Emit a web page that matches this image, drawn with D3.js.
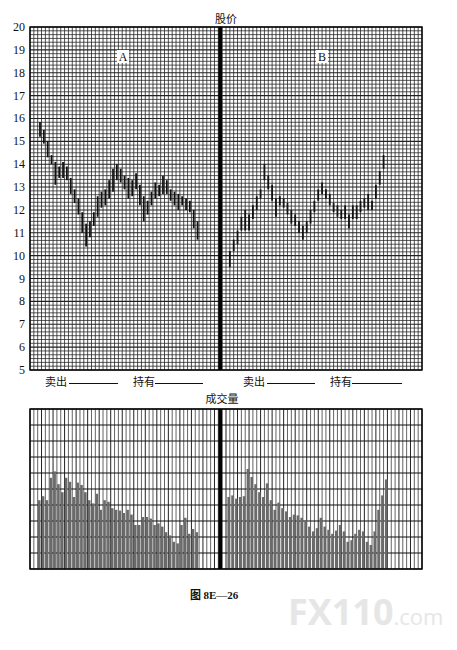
<!DOCTYPE html>
<html><head><meta charset="utf-8">
<script src="https://cdn.jsdelivr.net/npm/d3@7"></script>
<style>body{margin:0;background:#fff}</style>
</head><body>
<script>
// ---- data ----
const yTicks = [5,6,7,8,9,10,11,12,13,14,15,16,17,18,19,20];
const aHigh = [15.85,15.5,15.0,14.4,14.1,13.9,14.1,13.9,13.4,12.9,12.5,11.9,11.4,11.5,11.9,12.6,12.8,12.9,13.3,13.8,14.0,13.8,13.5,13.4,13.3,13.6,13.1,12.6,12.4,12.8,13.2,13.1,13.5,13.3,12.9,12.8,12.7,12.6,12.5,12.4,12.0,11.5];
const aLow  = [15.2,14.9,14.3,14.0,13.1,13.4,13.4,13.3,12.7,12.3,11.8,11.0,10.4,10.8,11.3,11.7,12.1,12.2,12.5,12.8,13.3,13.2,12.9,12.5,12.6,12.9,12.2,11.5,11.8,12.2,12.5,12.6,12.7,12.7,12.4,12.2,12.0,12.2,12.0,11.9,11.2,10.7];
const bHigh = [10.2,10.7,11.1,11.7,12.0,11.8,12.2,12.6,12.9,14.0,13.5,13.1,12.5,12.6,12.5,12.3,12.0,11.8,11.5,11.3,11.5,12.0,12.4,12.9,13.2,12.9,12.7,12.3,12.2,12.0,12.2,11.8,12.2,12.2,12.4,12.5,12.7,12.4,13.1,13.7,14.4];
const bLow  = [9.5,10.2,10.5,11.1,11.1,11.1,11.6,12.0,12.5,13.3,12.9,12.4,11.7,12.2,12.1,11.8,11.4,11.3,11.0,10.7,11.0,11.4,11.9,12.4,12.7,12.5,12.2,11.9,11.7,11.6,11.6,11.2,11.6,11.6,11.9,12.1,12.0,12.0,12.5,13.1,13.8];
const aVol = [4.3,4.55,4.3,5.7,6.1,5.3,4.8,5.7,5.45,4.5,5.4,5.25,4.8,4.3,4.1,4.7,3.7,4.3,4.2,3.8,3.7,3.65,3.5,3.7,3.4,2.75,2.75,3.25,3.25,3.15,2.75,2.85,2.65,2.3,2.1,1.7,1.6,2.75,3.2,2.2,2.5,2.3];
const bVol = [4.5,4.6,4.4,4.5,4.55,6.25,5.75,5.3,4.8,4.5,5.35,4.3,3.7,4.15,3.8,3.6,3.25,3.4,3.35,3.2,3.05,2.65,2.35,2.55,3.2,2.65,2.45,2.2,2.4,2.75,2.35,1.7,1.8,2.2,2.45,2.35,1.7,1.5,2.35,3.7,4.6,5.6];

// ---- layout ----
const W = 457, H = 650;
const svg = d3.select('body').append('svg').attr('width', W).attr('height', H);
const L = 30, R = 422, T = 27, B = 370;
const nCols = 102;
const x = d3.scaleLinear().domain([0, nCols]).range([L, R]);
const y = d3.scaleLinear().domain([5, 20]).range([B, T]);
const T2 = 409, B2 = 569;
const y2 = d3.scaleLinear().domain([0, 10]).range([B2, T2]);
const serif = "'Liberation Serif','DejaVu Serif',serif";
const cjk = "'Noto Sans CJK SC','Noto Sans CJK JP',sans-serif";

// ---- price grid ----
const g = svg.append('g');
const hLines = d3.range(0, 91).map(i => 5 + i / 6);
g.selectAll('line.h').data(hLines).enter().append('line')
  .attr('x1', L).attr('x2', R)
  .attr('y1', d => y(d)).attr('y2', d => y(d))
  .attr('stroke', '#222')
  .attr('stroke-width', (d, i) => i % 6 === 0 ? 1.1 : 0.75);
g.selectAll('line.v').data(d3.range(0, nCols + 1)).enter().append('line')
  .attr('y1', T).attr('y2', B)
  .attr('x1', d => x(d)).attr('x2', d => x(d))
  .attr('stroke', '#222')
  .attr('stroke-width', 0.8);
g.append('rect').attr('x', L).attr('y', T).attr('width', R - L).attr('height', B - T)
  .attr('fill', 'none').attr('stroke', '#000').attr('stroke-width', 1.4);
g.append('rect').attr('x', x(49)).attr('y', T).attr('width', x(50) - x(49)).attr('height', B - T).attr('fill', '#000');

// y tick labels
svg.selectAll('text.yt').data(yTicks).enter().append('text')
  .attr('x', 25).attr('y', d => y(d) + 4)
  .attr('text-anchor', 'end').attr('font-family', serif).attr('font-size', 12)
  .attr('fill', '#111').text(d => d);

// A / B labels
[['A', 123], ['B', 322]].forEach(([t, cx]) => {
  svg.append('rect').attr('x', cx - 6).attr('y', 50).attr('width', 12).attr('height', 13).attr('fill', '#fff');
  svg.append('text').attr('x', cx).attr('y', 61).attr('text-anchor', 'middle')
    .attr('font-family', serif).attr('font-size', 12).attr('fill', '#111').text(t);
});

// ---- price bars ----
const aStart = 2.6, bStart = 52.0;
function bars(hi, lo, start) {
  const data = hi.map((h, i) => ({ h, l: lo[i], i }));
  svg.append('g').selectAll('line').data(data).enter().append('line')
    .attr('x1', d => x(start + d.i)).attr('x2', d => x(start + d.i))
    .attr('y1', d => y(d.h)).attr('y2', d => y(d.l))
    .attr('stroke', '#111').attr('stroke-width', 1.8);
}
bars(aHigh, aLow, aStart);
bars(bHigh, bLow, bStart);

// titles
svg.append('text').attr('x', 226).attr('y', 23).attr('text-anchor', 'middle')
  .attr('font-family', cjk).attr('font-size', 11).attr('fill', '#111').text('股价');
svg.append('text').attr('x', 222).attr('y', 403).attr('text-anchor', 'middle')
  .attr('font-family', cjk).attr('font-size', 11).attr('fill', '#111').text('成交量');

// sell / hold labels
[[45, 69, 118], [133, 155, 203], [243, 267, 315], [330, 352, 402]].forEach(([tx, l1, l2], k) => {
  svg.append('text').attr('x', tx).attr('y', 386).attr('font-family', cjk).attr('font-size', 11)
    .attr('fill', '#111').text(k % 2 === 0 ? '卖出' : '持有');
  svg.append('line').attr('x1', l1).attr('x2', l2).attr('y1', 383.5).attr('y2', 383.5)
    .attr('stroke', '#111').attr('stroke-width', 1);
});

// ---- volume grid ----
const gv = svg.append('g');
gv.selectAll('line.v').data(d3.range(0, nCols + 1)).enter().append('line')
  .attr('y1', T2).attr('y2', B2)
  .attr('x1', d => x(d)).attr('x2', d => x(d))
  .attr('stroke', '#222').attr('stroke-width', d => d % 3 === 0 ? 1.0 : 0.7);

// volume bars
function vbars(vals, start) {
  svg.append('g').selectAll('rect').data(vals).enter().append('rect')
    .attr('x', (d, i) => x(start + i) - 1.3).attr('width', 2.6)
    .attr('y', d => y2(d)).attr('height', d => y2(0) - y2(d))
    .attr('fill', '#6a6a6a');
}
vbars(aVol, aStart - 0.2);
vbars(bVol, bStart - 0.3);

gv.append('g').selectAll('line').data(d3.range(0, 11)).enter().append('line')
  .attr('x1', L).attr('x2', R).attr('y1', d => y2(d)).attr('y2', d => y2(d))
  .attr('stroke', '#111').attr('stroke-width', 1.1);
svg.append('rect').attr('x', L).attr('y', T2).attr('width', R - L).attr('height', B2 - T2)
  .attr('fill', 'none').attr('stroke', '#000').attr('stroke-width', 1.4);
svg.append('rect').attr('x', x(49)).attr('y', T2).attr('width', x(50) - x(49)).attr('height', B2 - T2).attr('fill', '#000');

// caption
const cap = svg.append('text').attr('x', 190).attr('y', 599).attr('font-size', 11).attr('font-weight', 'bold').attr('fill', '#111');
cap.append('tspan').attr('font-family', cjk).text('图 ');
cap.append('tspan').attr('font-family', serif).text('8E—26');

// watermark
const wm = svg.append('text').attr('x', 288).attr('y', 625).attr('fill', '#e6e6e6')
  .attr('font-family', "'Open Sans','DejaVu Sans',sans-serif").attr('font-weight', 'bold');
wm.append('tspan').attr('font-size', 36).text('FX110');
wm.append('tspan').attr('font-size', 22).attr('font-weight', 'normal').text('.com');
</script>
</body></html>
